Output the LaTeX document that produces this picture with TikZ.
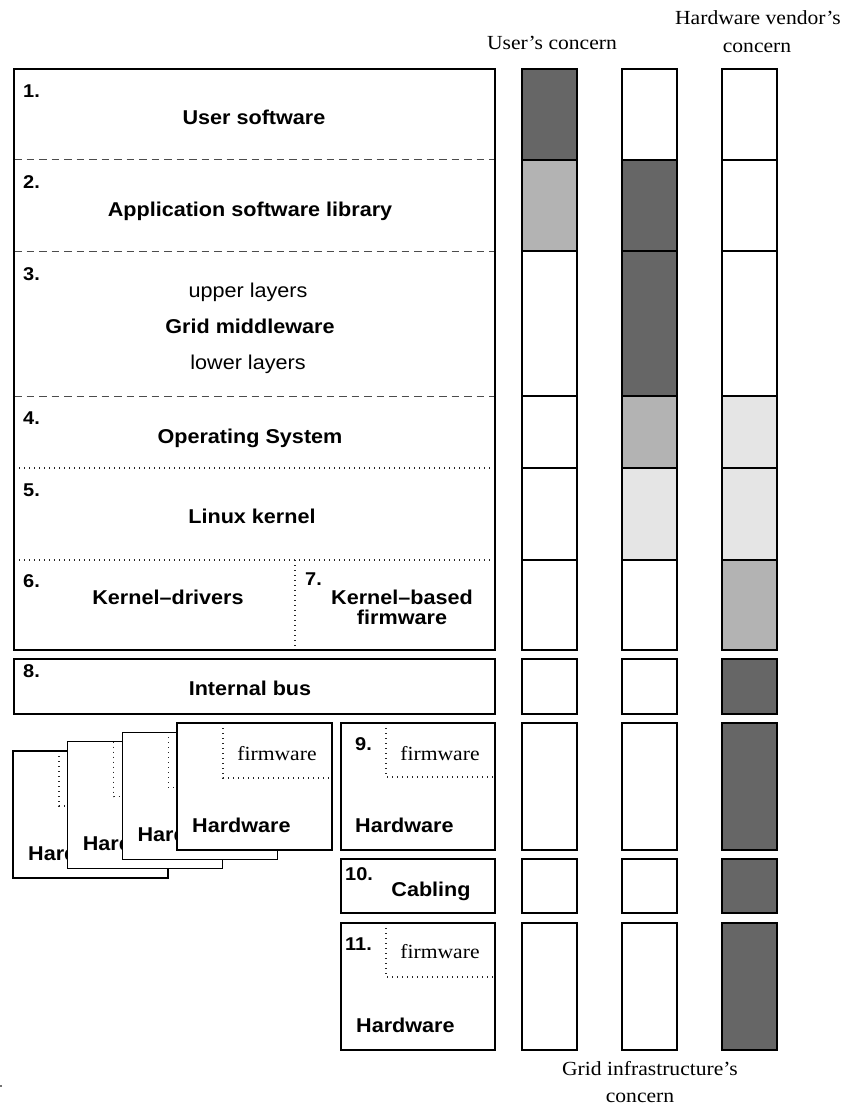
\documentclass[tikz,border=0pt]{standalone}
\usepackage{fontspec}
\setmainfont[FakeStretch=1.08]{Liberation Serif}
\setsansfont[FakeStretch=1.08]{Liberation Sans}

\definecolor{darkfill}{HTML}{666666}
\definecolor{midfill}{HTML}{B3B3B3}
\definecolor{lightfill}{HTML}{E5E5E5}

\begin{document}
\begin{tikzpicture}[x=1pt,y=-1pt,
  frame/.style={draw=black, line width=1.1pt},
  sepdashed/.style={draw=black!70, line width=1pt, dash pattern=on 7.5pt off 5pt},
  sepdotted/.style={draw=black!85, line width=1.1pt, dash pattern=on 1pt off 4pt},
  lbl/.style={font=\sffamily\bfseries\fontsize{20}{20}\selectfont, inner sep=0pt, anchor=base},
  lyr/.style={font=\sffamily\fontsize{20}{20}\selectfont, inner sep=0pt, anchor=base},
  num/.style={font=\sffamily\bfseries\fontsize{18.5}{18.5}\selectfont, inner sep=0pt, anchor=base west},
  serif/.style={font=\fontsize{20}{20}\selectfont, inner sep=0pt, anchor=base},
]
\useasboundingbox (0,0) rectangle (845,1107);

% column captions
\node[serif] (usercap)   at (552,50)   {User’s concern};
\node[serif] (hwcapa)    at (758,25)   {Hardware vendor’s};
\node[serif] (hwcapb)    at (757,53)   {concern};
\node[serif] (gridcapa)  at (650,1075) {Grid infrastructure’s};
\node[serif] (gridcapb)  at (640,1102) {concern};

% software stack: layer separators, then the frame
\draw[sepdashed] (14,160) -- (495,160);
\draw[sepdashed] (14,251) -- (495,251);
\draw[sepdashed] (14,396) -- (495,396);
\draw[sepdotted] (14,468) -- (495,468);
\draw[sepdotted] (14,560) -- (495,560);
\draw[sepdotted] (295,560) -- (295,650);
\draw[frame] (14,69) rectangle (495,650);

\node[num] (n1) at (23,98)  {1.};
\node[lbl] (l1) at (254,125) {User software};
\node[num] (n2) at (23,189) {2.};
\node[lbl] (l2) at (250,217) {Application software library};
\node[num] (n3) at (23,280) {3.};
\node[lyr] (l3a) at (248,297) {upper layers};
\node[lbl] (l3b) at (250,333) {Grid middleware};
\node[lyr] (l3c) at (248,369) {lower layers};
\node[num] (n4) at (23,424) {4.};
\node[lbl] (l4) at (250,443) {Operating System};
\node[num] (n5) at (23,496) {5.};
\node[lbl] (l5) at (252,523) {Linux kernel};
\node[num] (n6) at (23,587) {6.};
\node[lbl] (l6) at (168,604) {Kernel–drivers};
\node[num] (n7) at (305,585) {7.};
\node[lbl] (l7a) at (402,604) {Kernel–based};
\node[lbl] (l7b) at (402,624) {firmware};

% internal bus
\draw[frame] (14,659) rectangle (495,714);
\node[num] (n8) at (23,677) {8.};
\node[lbl] (l8) at (250,695) {Internal bus};

% stacked hardware cards, back to front
\foreach \k in {0,...,3} {
  \pgfmathsetmacro\L{13+54.67*\k}
  \pgfmathsetmacro\T{751-9.33*\k}
  \fill[white] (\L,\T) rectangle ++(155,127);
  \draw[sepdotted] (\L+46,\T) -- (\L+46,\T+55) -- (\L+152,\T+55);
  \node[serif] (cardfw\k) at (\L+100,\T+37) {firmware};
  \draw[frame] (\L,\T) rectangle ++(155,127);
  \node[lbl, anchor=base west] (cardhw\k) at (\L+15,\T+109) {Hardware};
}

% hardware 9
\draw[sepdotted] (386,723) -- (386,777) -- (493,777);
\draw[frame] (341,723) rectangle (495,850);
\node[num] (n9) at (355,750) {9.};
\node[serif] (fw9) at (440,760) {firmware};
\node[lbl, anchor=base west] (hw9) at (355,832) {Hardware};

% cabling 10
\draw[frame] (341,859) rectangle (495,913);
\node[num] (n10) at (345,880) {10.};
\node[lbl] (cab) at (431,896) {Cabling};

% hardware 11
\draw[sepdotted] (386,923) -- (386,977) -- (493,977);
\draw[frame] (341,923) rectangle (495,1050);
\node[num] (n11) at (345,950) {11.};
\node[serif] (fw11) at (440,958) {firmware};
\node[lbl, anchor=base west] (hw11) at (356,1032) {Hardware};

% concern columns: user, grid infrastructure, hardware vendor
\foreach \t/\b/\fa/\fb/\fc in {
  69/160/darkfill/white/white,
  160/251/midfill/darkfill/white,
  251/396/white/darkfill/white,
  396/468/white/midfill/lightfill,
  468/560/white/lightfill/lightfill,
  560/650/white/white/midfill,
  659/714/white/white/darkfill,
  723/850/white/white/darkfill,
  859/913/white/white/darkfill,
  923/1050/white/white/darkfill} {
  \draw[frame, fill=\fa] (522,\t) rectangle (577,\b);
  \draw[frame, fill=\fb] (622,\t) rectangle (677,\b);
  \draw[frame, fill=\fc] (722,\t) rectangle (777,\b);
}

% stray mark at the lower left edge
\fill[black!55] (0,1084.5) rectangle (1.8,1086.8);
\end{tikzpicture}
\end{document}
